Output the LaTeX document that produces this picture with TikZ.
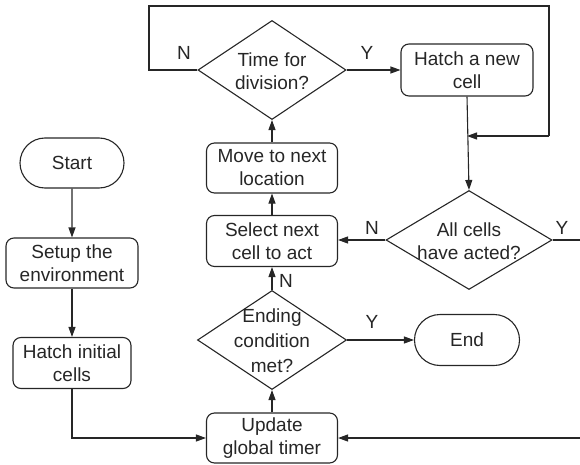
\documentclass[tikz,border=0pt]{standalone}
\usepackage{fontspec}
\setmainfont{Liberation Sans}
\usetikzlibrary{shapes.geometric,shapes.misc,arrows.meta}
\newcommand{\fs}{\fontsize{19}{23}\selectfont}
\begin{document}
\begin{tikzpicture}[x=1pt,y=-1pt,
  line width=1.1pt,
  every node/.style={font=\fs, text=black!85},
  box/.style={draw, rounded corners=8pt, minimum width=131pt, minimum height=50pt, align=center, inner sep=0pt},
  term/.style={draw, rounded rectangle, minimum width=104pt, minimum height=50pt, inner sep=0pt},
  dia/.style={draw, diamond, minimum width=148pt, minimum height=99pt, inner sep=0pt},
  dtext/.style={align=center, inner sep=0pt},
  lbl/.style={inner sep=0pt},
  arr/.style={-{Triangle[length=10pt,width=7pt]}},
  ln/.style={}
]
\useasboundingbox (0,0) rectangle (580,465);
\draw[draw=black!85] (0,0) (0,0);
\begin{scope}[draw=black!85]
% left column
\node[term] (start) at (72,163) {Start};
\node[box, minimum width=132pt] (setup) at (72,263) {Setup the\\environment};
\node[box, minimum width=118pt, minimum height=51pt] (hinit) at (72,363) {Hatch initial\\cells};
% center column
\node[dia] (tdiv) at (272,70) {};
\node[dtext] (tdivt) at (272,71) {Time for\\division?};
\node[box] (move) at (272,168) {Move to next\\location};
\node[box, minimum height=51pt] (sel) at (272,241) {Select next\\cell to act};
\node[dia, minimum width=149pt] (endc) at (272,340) {};
\node[dtext, font=\fontsize{19}{25}\selectfont] (endct) at (272,341) {Ending\\condition\\met?};
\node[box] (upd) at (272,438) {Update\\global timer};
% right column
\node[box, minimum width=132pt, minimum height=52pt] (hnew) at (467,70) {Hatch a new\\cell};
\node[dia, minimum width=166pt] (alls) at (469,240) {};
\node[dtext] (allst) at (469,241) {All cells\\have acted?};
\node[term, minimum width=105pt, minimum height=51pt] (endn) at (467,340) {End};

% coordinates
\coordinate (c1) at (149,70);
\coordinate (c2) at (149,6);
\coordinate (c3) at (549,6);
\coordinate (c4) at (549,136);
\coordinate (join) at (467,136);
\coordinate (yout) at (580,240);
\coordinate (tin) at (580,438);

% connectors
\draw[arr] (start) -- (setup);
\draw[arr] (setup) -- (hinit);
\draw[arr] (hinit.south) |- (upd.west);
\draw[arr] (upd) -- (endc.south);
\draw[arr] (endc.north) -- (sel);
\draw[arr] (sel) -- (move);
\draw[arr] (move) -- (tdiv.south);
\draw[arr] (tdiv.east) -- (hnew.west);
\draw (tdiv.west) -- (c1) -- (c2) -- (c3) -- (c4);
\draw[arr] (c4) -- (join);
\draw[arr] (hnew.south -| join) -- (alls.north);
\draw[arr] (alls.west) -- (alls.west -| sel.east);
\draw (alls.east) -- (yout);
\draw[arr] (endc.east) -- (endn.west);
\draw[arr] (tin) -- (upd.east);

% labels
\node[lbl] (ln1) at (184,53) {N};
\node[lbl] (ly1) at (367,53) {Y};
\node[lbl] (ln2) at (372,228) {N};
\node[lbl] (ly2) at (562,228) {Y};
\node[lbl] (ly3) at (372,322) {Y};
\node[lbl] (ln3) at (286,281) {N};
\end{scope}
\end{tikzpicture}
\end{document}
